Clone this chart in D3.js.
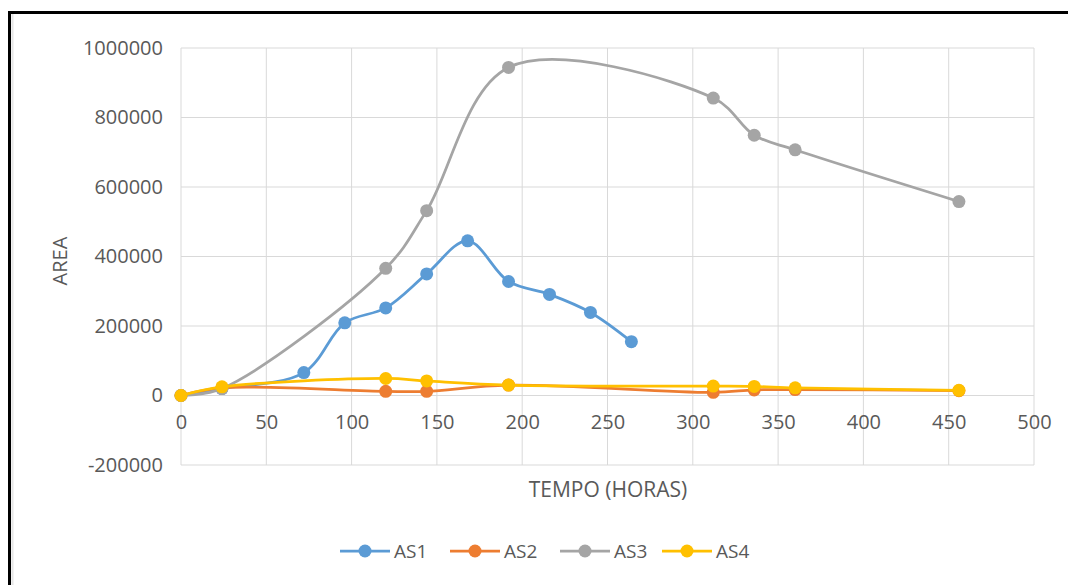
<!DOCTYPE html>
<html>
<head>
<meta charset="utf-8">
<script src="https://cdn.jsdelivr.net/npm/d3@7"></script>
<style>
  body { margin: 0; background: #fff; }
  svg { display: block; font-family: "Open Sans", sans-serif; }
</style>
</head>
<body>
<svg id="chart" width="1068" height="585"></svg>
<script>
// hours of each reading
let hours = [0, 24, 72, 96, 120, 144, 168, 192, 216, 240, 264, 312, 336, 360, 456];

// null = no reading for that hour
let as1 = [0, 20000, 66000, 209000, 252000, 350000, 445000, 328000, 291000, 239000, 155000, null, null, null, null];
let as2 = [0, 22000, null, null, 12000, 12000, null, 30000, null, null, null, 9000, 16000, 17000, 14000];
let as3 = [0, 20000, null, null, 366000, 532000, null, 944000, null, null, null, 856000, 749000, 707000, 558000];
let as4 = [0, 25000, null, null, 49000, 42000, null, 30000, null, null, null, 27000, 26000, 22000, 15000];

let seriesNames = ['AS1', 'AS2', 'AS3', 'AS4'];
let seriesValues = [as1, as2, as3, as4];
let colors = ['#5B9BD5', '#ED7D31', '#A5A5A5', '#FFC000'];

let xTicks = [0, 50, 100, 150, 200, 250, 300, 350, 400, 450, 500];
let yTicks = [-200000, 0, 200000, 400000, 600000, 800000, 1000000];

let svg = d3.select('#chart');

let plotLeft = 181, plotRight = 1034, plotTop = 48, plotBottom = 465;

let x = d3.scaleLinear().domain([0, 500]).range([plotLeft, plotRight]);
let y = d3.scaleLinear().domain([-200000, 1000000]).range([plotBottom, plotTop]);

// frame lines of the pasted picture
svg.append('line').attr('x1', 8).attr('x2', 1068).attr('y1', 12.5).attr('y2', 12.5)
  .attr('stroke', '#000').attr('stroke-width', 3);
svg.append('line').attr('x1', 9.5).attr('x2', 9.5).attr('y1', 11).attr('y2', 585)
  .attr('stroke', '#000').attr('stroke-width', 3);
svg.append('line').attr('x1', 12.5).attr('x2', 12.5).attr('y1', 14).attr('y2', 585)
  .attr('stroke', '#e6e6e6').attr('stroke-width', 2);

// gridlines
svg.append('g')
  .selectAll('line')
  .data(xTicks)
  .enter()
  .append('line')
  .attr('x1', d => x(d)).attr('x2', d => x(d))
  .attr('y1', plotTop).attr('y2', plotBottom)
  .attr('stroke', '#d9d9d9').attr('stroke-width', 1);

svg.append('g')
  .selectAll('line')
  .data(yTicks)
  .enter()
  .append('line')
  .attr('x1', plotLeft).attr('x2', plotRight)
  .attr('y1', d => y(d)).attr('y2', d => y(d))
  .attr('stroke', '#d9d9d9').attr('stroke-width', 1);

// axes (labels only, lines are the grid)
let yAxis = svg.append('g')
  .attr('transform', `translate(${plotLeft},0)`)
  .call(d3.axisLeft(y).tickValues(yTicks).tickFormat(d => String(d)).tickSize(0).tickPadding(18));

let xAxis = svg.append('g')
  .attr('transform', `translate(0,${y(0)})`)
  .call(d3.axisBottom(x).tickValues(xTicks).tickFormat(d => String(d)).tickSize(0).tickPadding(19));

[yAxis, xAxis].forEach(a => {
  a.select('.domain').remove();
  a.selectAll('text')
    .attr('fill', '#595959')
    .style('font-size', '20px')
    .style('font-family', '"Open Sans", sans-serif');
});

// series
let line = d3.line()
  .x(d => x(d[0]))
  .y(d => y(d[1]))
  .curve(d3.curveCatmullRom.alpha(0.5));

seriesValues.forEach((vals, i) => {
  let pts = hours.map((h, j) => [h, vals[j]]).filter(d => d[1] != null);

  svg.append('path')
    .datum(pts)
    .attr('d', line)
    .attr('fill', 'none')
    .attr('stroke', colors[i])
    .attr('stroke-width', 2.75)
    .attr('stroke-linejoin', 'round');

  svg.append('g')
    .selectAll('circle')
    .data(pts)
    .enter()
    .append('circle')
    .attr('cx', d => x(d[0]))
    .attr('cy', d => y(d[1]))
    .attr('r', 6.5)
    .attr('fill', colors[i]);
});

// axis titles
svg.append('text')
  .text('TEMPO (HORAS)')
  .attr('x', 608).attr('y', 497)
  .attr('text-anchor', 'middle')
  .attr('fill', '#595959')
  .style('font-size', '21px');

svg.append('text')
  .text('AREA')
  .attr('transform', 'translate(67,261) rotate(-90)')
  .attr('text-anchor', 'middle')
  .attr('fill', '#595959')
  .style('font-size', '20px');

// legend
let legendX = [340, 450, 560, 662];
let legend = svg.append('g')
  .selectAll('g')
  .data(seriesNames)
  .enter()
  .append('g')
  .attr('transform', (d, i) => `translate(${legendX[i]},551)`);

legend.append('line')
  .attr('x1', 0).attr('x2', 50)
  .attr('stroke', (d, i) => colors[i])
  .attr('stroke-width', 2.75);

legend.append('circle')
  .attr('cx', 25).attr('r', 6.5)
  .attr('fill', (d, i) => colors[i]);

legend.append('text')
  .text(d => d)
  .attr('x', 54).attr('y', 7)
  .attr('fill', '#595959')
  .style('font-size', '19px');
</script>
</body>
</html>
